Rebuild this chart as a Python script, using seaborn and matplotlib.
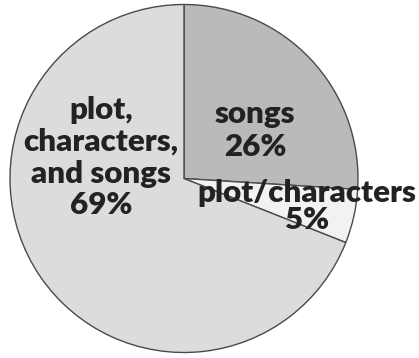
import matplotlib
matplotlib.use("Agg")
import matplotlib.pyplot as plt
import seaborn as sns

labels = ["songs", "plot/characters", "plot,\ncharacters,\nand songs"]
values = [26, 5, 69]
colors = ["#bababa", "#f2f2f2", "#dcdcdc"]

sns.set_theme(style="white")
plt.rcParams["font.family"] = ["Lato", "DejaVu Sans"]

fig = plt.figure(figsize=(4.19, 3.58), dpi=100)
fig.patch.set_facecolor("white")
ax = fig.add_axes([10 / 419, 5.5 / 358, 348 / 419, 348 / 358])
wedges, _ = ax.pie(values, colors=colors, startangle=90, counterclock=False,
                   radius=1.0,
                   wedgeprops=dict(edgecolor="#4a4a4a", linewidth=1.0))
for w in wedges:
    w.set_clip_on(False)
ax.set_xlim(-1, 1)
ax.set_ylim(-1, 1)
ax.set_aspect("equal")
ax.axis("off")

pos = [(0.408, 0.275), (0.707, -0.16), (-0.477, 0.12)]
spacing = [1.2, 0.95, 1.17]
for lab, v, (x, y), ls in zip(labels, values, pos, spacing):
    ax.text(x, y, f"{lab}\n{v}%", ha="center", va="center", fontsize=22.5,
            fontweight="heavy", color="#222222", linespacing=ls)

fig.savefig("out.png", dpi=100, facecolor="white")
